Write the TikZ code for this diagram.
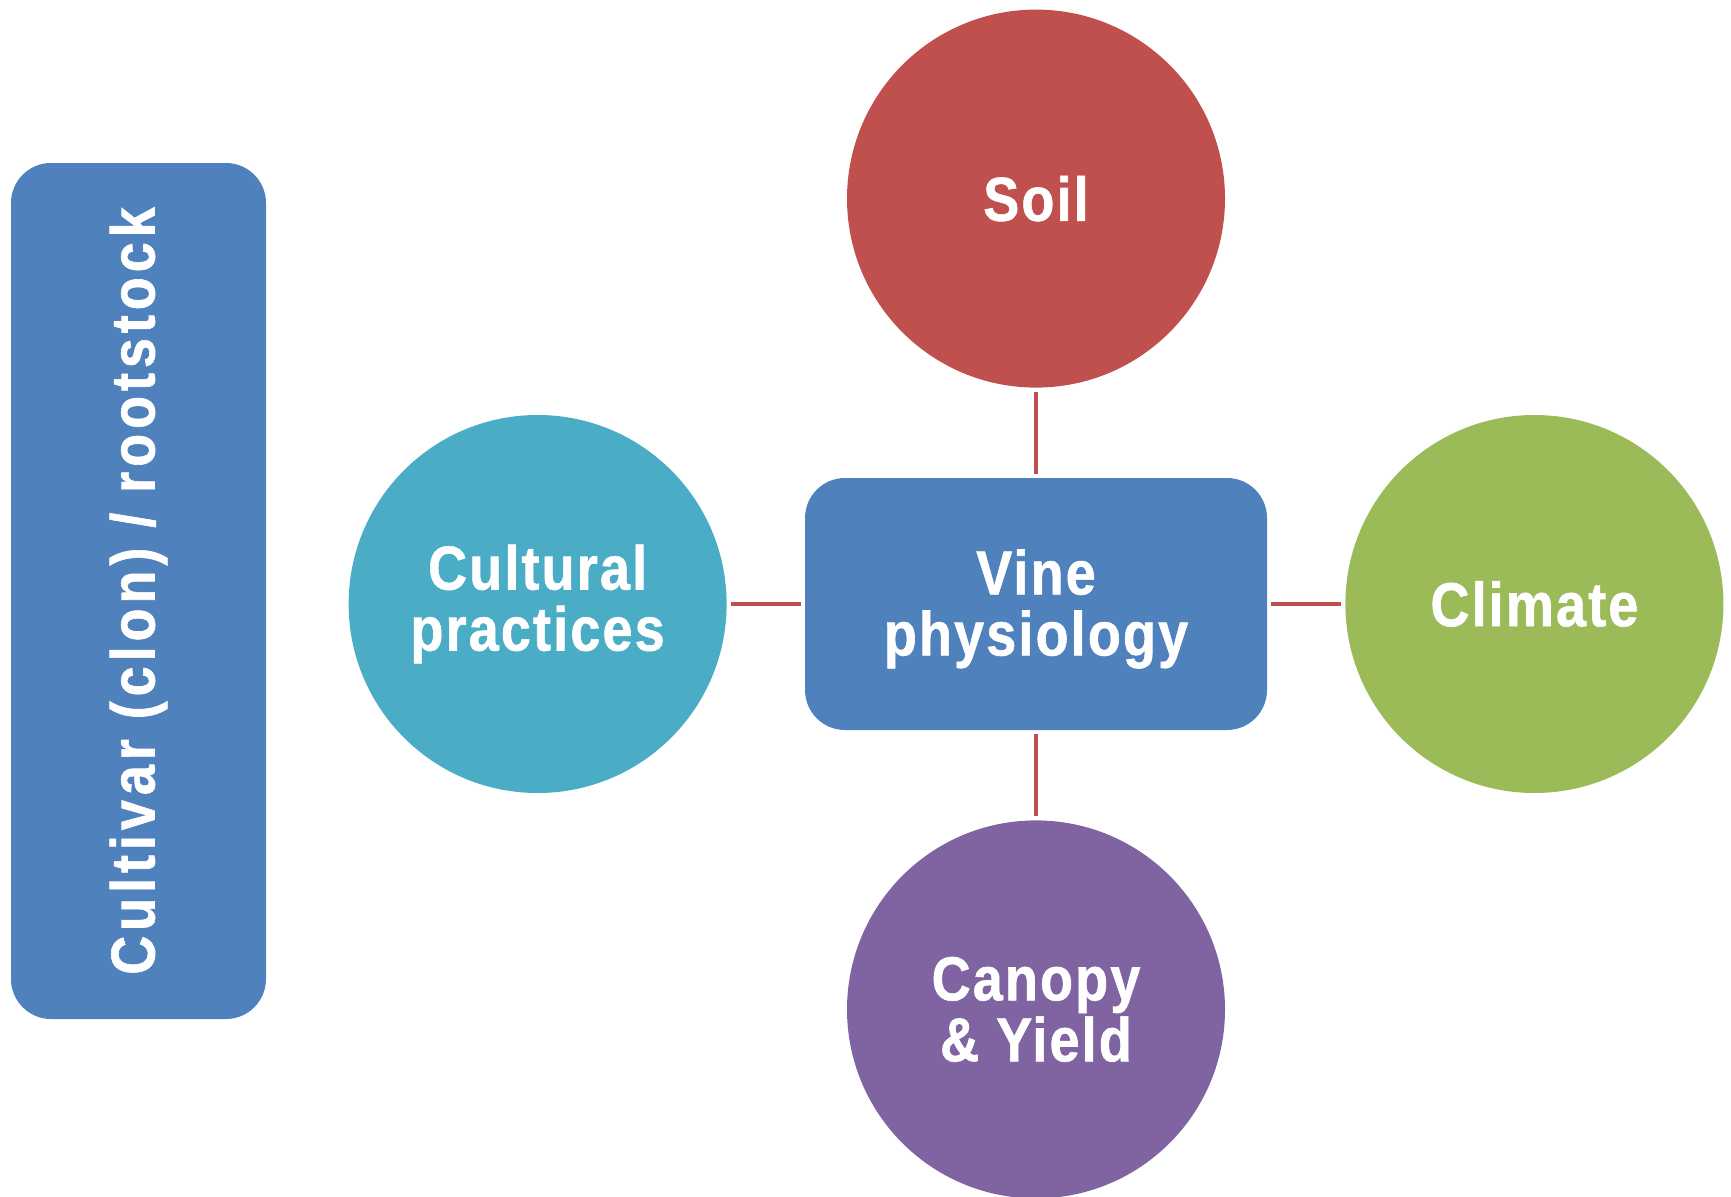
\documentclass[tikz,border=0pt]{standalone}
\usepackage{fontspec}
\setmainfont{Liberation Sans}[FakeStretch=0.87,LetterSpace=3.5,BoldFeatures={FakeBold=1}]
\usetikzlibrary{positioning}

\definecolor{vineblue}{HTML}{4F81BD}
\definecolor{soilred}{HTML}{C0504D}
\definecolor{cultteal}{HTML}{4BACC6}
\definecolor{climgreen}{HTML}{9BBB59}
\definecolor{canpurple}{HTML}{8064A2}

\begin{document}
\begin{tikzpicture}[x=1pt, y=-1pt, node distance=90pt and 78pt,
  every node/.style={font=\fontsize{62}{61}\selectfont\bfseries, text=white, align=center},
  factor/.style={circle, minimum size=378pt, inner sep=0pt},
  box/.style={rectangle, rounded corners=40pt},
  link/.style={draw=soilred, line width=3.5pt, shorten <=4pt, shorten >=4pt}]
  \useasboundingbox (0,0) rectangle (1731,1196);
  \node[box, fill=vineblue, minimum width=462pt, minimum height=252pt] (vine) at (1036,604) {};
  \node[yshift=-5pt] (vinelabel) at (vine.center) {Vine\\physiology};
  \node[factor, fill=soilred, above=of vine] (soil) {Soil};
  \node[factor, fill=canpurple, below=of vine] (canopy) {Canopy\\\& Yield};
  \node[factor, fill=cultteal, left=of vine] (cult) {Cultural\\practices};
  \node[factor, fill=climgreen, right=of vine] (clim) {Climate};
  % cultivar bar on the left
  \node[box, fill=vineblue, minimum width=255pt, minimum height=856pt] (cultivar) at (138.5,591) {};
  \node[rotate=90] (cvlabel) at (cultivar.center) {\addfontfeature{LetterSpace=8}Cultivar (clon) / rootstock};
  \draw[link] (soil) -- (vine);
  \draw[link] (vine) -- (canopy);
  \draw[link] (cult) -- (vine);
  \draw[link] (vine) -- (clim);
\end{tikzpicture}
\end{document}
